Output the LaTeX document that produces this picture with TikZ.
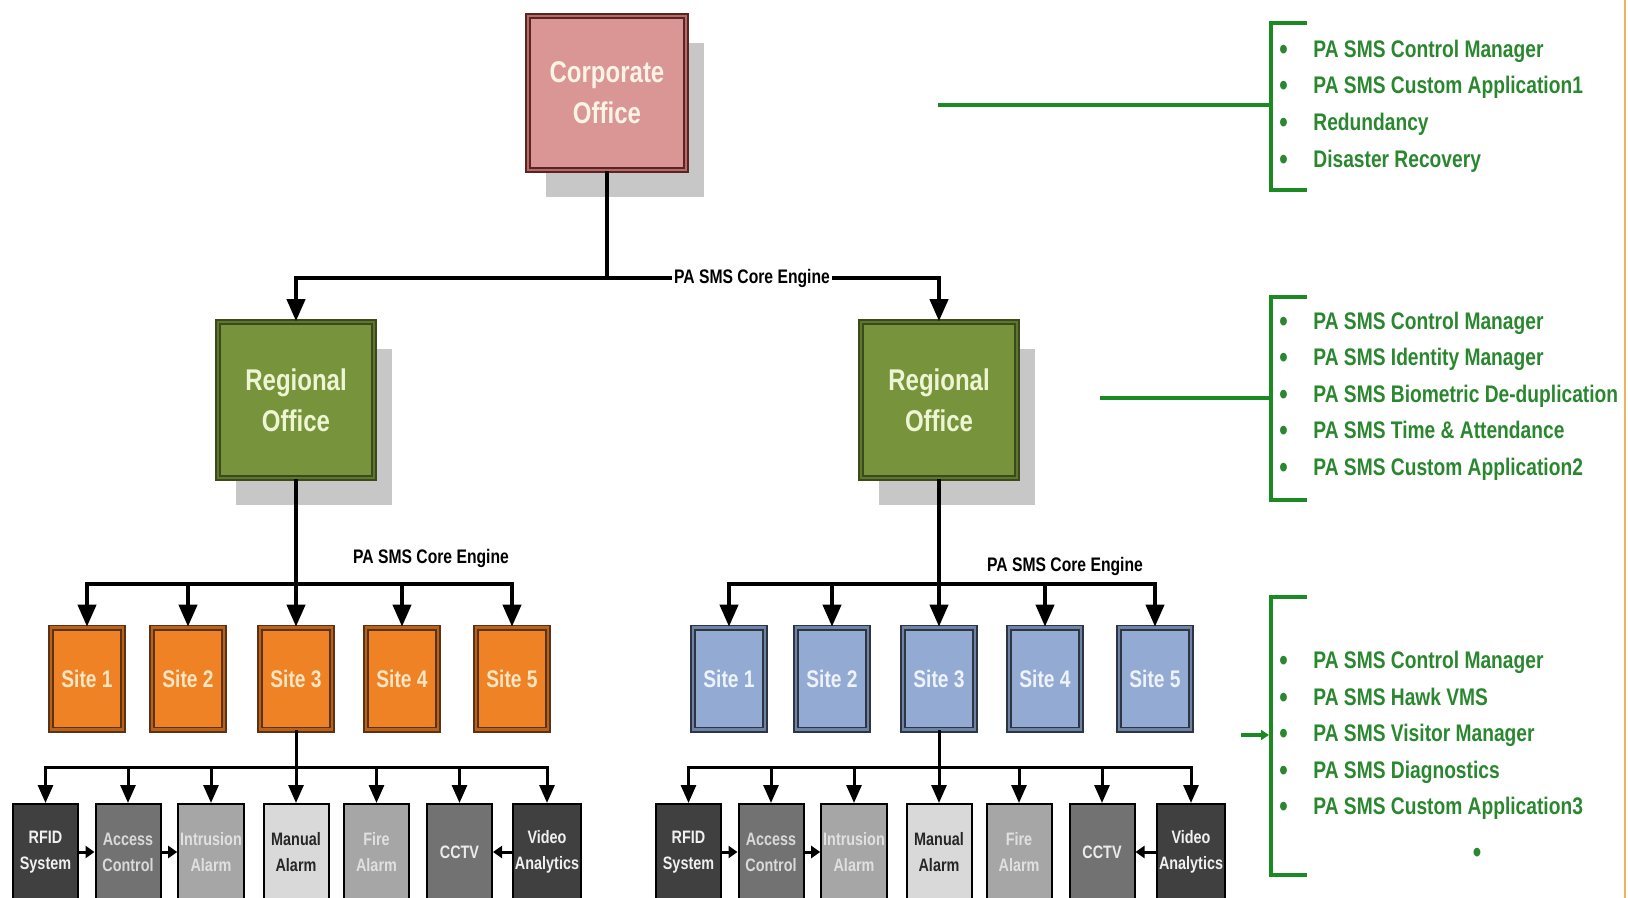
\documentclass[tikz,border=0pt]{standalone}
\usepackage{fontspec}
\setmainfont{Liberation Sans}[FakeStretch=0.8]
\usetikzlibrary{arrows.meta,shadows,calc}

\definecolor{corpfill}{HTML}{D99694}
\definecolor{corpline}{HTML}{5A2424}
\definecolor{corpmid}{HTML}{B86A68}
\definecolor{corptext}{HTML}{FBF3E6}
\definecolor{regfill}{HTML}{77933C}
\definecolor{regline}{HTML}{3A4A1C}
\definecolor{regmid}{HTML}{5E762E}
\definecolor{regtext}{HTML}{EEF5D2}
\definecolor{orfill}{HTML}{EE8224}
\definecolor{orline}{HTML}{5C3214}
\definecolor{ormid}{HTML}{B8621C}
\definecolor{ortext}{HTML}{FDE6C4}
\definecolor{blfill}{HTML}{93ABD3}
\definecolor{blline}{HTML}{2E3440}
\definecolor{blmid}{HTML}{6C84A8}
\definecolor{bltext}{HTML}{EEF2FA}
\definecolor{listgreen}{HTML}{2A872F}
\definecolor{brkgreen}{HTML}{1C8A22}
\definecolor{devdark}{HTML}{404040}
\definecolor{devmid}{HTML}{727272}
\definecolor{devlight}{HTML}{A6A6A6}
\definecolor{devpale}{HTML}{D9D9D9}
\definecolor{edgeorange}{HTML}{F2B25A}

\newcommand{\lbul}{\makebox[17pt][l]{\raisebox{-1pt}{\fontsize{15}{15}\selectfont\textbullet}}}

\tikzset{
  boxline/.style={line width=0.8pt, double distance=1.4pt, align=center},
  boxshadow/.style={drop shadow={shadow xshift=9pt, shadow yshift=-13.5pt, fill=black!22, opacity=1}},
  corpbox/.style={boxline, boxshadow, draw=corpline, double=corpmid, fill=corpfill, text=corptext,
    minimum width=79pt, minimum height=77pt, font=\bfseries\fontsize{15}{20.5}\selectfont},
  regbox/.style={boxline, boxshadow, draw=regline, double=regmid, fill=regfill, text=regtext,
    minimum width=78pt, minimum height=78pt, font=\bfseries\fontsize{15}{20.5}\selectfont},
  sitea/.style={boxline, draw=orline, double=ormid, fill=orfill, text=ortext,
    minimum width=36pt, minimum height=51pt, inner sep=1pt, font=\bfseries\fontsize{12}{14}\selectfont},
  siteb/.style={boxline, draw=blline, double=blmid, fill=blfill, text=bltext,
    minimum width=36pt, minimum height=51pt, inner sep=1pt, font=\bfseries\fontsize{12}{14}\selectfont},
  dev/.style={draw=black, line width=1pt, minimum width=32.5pt, minimum height=48pt, inner sep=1pt,
    align=center, font=\bfseries\fontsize{9}{13}\selectfont},
  core/.style={inner sep=1pt, font=\bfseries\fontsize{9.8}{12}\selectfont},
  link/.style={line width=2pt, -{Triangle[width=9pt,length=11pt]}},
  plain/.style={line width=2pt},
  devlink/.style={line width=1.5pt, -{Triangle[width=7.5pt,length=9pt]}},
  hlink/.style={line width=1.5pt, -{Triangle[width=6pt,length=4.5pt]}},
  brk/.style={draw=brkgreen, line width=2pt},
  listtxt/.style={text=listgreen, inner sep=0pt, align=left, font=\bfseries\fontsize{12}{18.3}\selectfont}
}

\begin{document}
\begin{tikzpicture}[x=50pt, y=-50pt]

     \useasboundingbox (0,0) rectangle (16.28,8.98);

     % offices
     \node[corpbox] (Corp) at (6.07,0.93) {Corporate\\Office};
     \node[regbox] (Reg1) at (2.96,4.00) {Regional\\Office};
     \node[regbox] (Reg2) at (9.39,4.00) {Regional\\Office};

     % sites
     \node[sitea] (SiteA1) at (0.87,6.785) {Site 1};
     \node[sitea] (SiteA2) at (1.88,6.785) {Site 2};
     \node[sitea] (SiteA3) at (2.96,6.785) {Site 3};
     \node[sitea] (SiteA4) at (4.02,6.785) {Site 4};
     \node[sitea] (SiteA5) at (5.12,6.785) {Site 5};

     \node[siteb] (SiteB1) at (7.29,6.785) {Site 1};
     \node[siteb] (SiteB2) at (8.32,6.785) {Site 2};
     \node[siteb] (SiteB3) at (9.39,6.785) {Site 3};
     \node[siteb] (SiteB4) at (10.45,6.785) {Site 4};
     \node[siteb] (SiteB5) at (11.55,6.785) {Site 5};

     % devices
     \node[dev, fill=devdark, text=white!94!black] (RfidA) at (0.455,8.52) {RFID\\System};
     \node[dev, fill=devmid, text=white!85!black] (AccA) at (1.28,8.52) {Access\\Control};
     \node[dev, fill=devlight, text=white!88!black] (IntA) at (2.11,8.52) {Intrusion\\Alarm};
     \node[dev, fill=devpale, text=black!85] (ManA) at (2.96,8.52) {Manual\\Alarm};
     \node[dev, fill=devlight, text=white!88!black] (FireA) at (3.765,8.52) {Fire\\Alarm};
     \node[dev, fill=devmid, text=white!92!black] (CctvA) at (4.595,8.52) {CCTV};
     \node[dev, fill=devdark, text=white!94!black] (VidA) at (5.47,8.52) {Video\\Analytics};

     \node[dev, fill=devdark, text=white!94!black] (RfidB) at (6.885,8.52) {RFID\\System};
     \node[dev, fill=devmid, text=white!85!black] (AccB) at (7.71,8.52) {Access\\Control};
     \node[dev, fill=devlight, text=white!88!black] (IntB) at (8.54,8.52) {Intrusion\\Alarm};
     \node[dev, fill=devpale, text=black!85] (ManB) at (9.39,8.52) {Manual\\Alarm};
     \node[dev, fill=devlight, text=white!88!black] (FireB) at (10.19,8.52) {Fire\\Alarm};
     \node[dev, fill=devmid, text=white!92!black] (CctvB) at (11.02,8.52) {CCTV};
     \node[dev, fill=devdark, text=white!94!black] (VidB) at (11.91,8.52) {Video\\Analytics};

     % junctions
     \coordinate (j0) at (6.07,2.78);
     \coordinate (j1) at (2.96,5.84);
     \coordinate (j2) at (9.39,5.84);
     \coordinate (k1) at (2.96,7.67);
     \coordinate (k2) at (9.39,7.67);

     \draw[plain] (Corp.south) -- (j0);
     \draw[link] (j0) -| (Reg1.north);
     \draw[link] (j0) -| (Reg2.north);
     \node[core, fill=white] (Core0) at (7.52,2.78) {PA SMS Core Engine};

     \draw[link] (Reg1.south) -- (SiteA3.north);
     \draw[link] (j1) -| (SiteA1.north);
     \draw[link] (j1) -| (SiteA2.north);
     \draw[link] (j1) -| (SiteA4.north);
     \draw[link] (j1) -| (SiteA5.north);
     \node[core] (CoreA) at (4.31,5.58) {PA SMS Core Engine};

     \draw[link] (Reg2.south) -- (SiteB3.north);
     \draw[link] (j2) -| (SiteB1.north);
     \draw[link] (j2) -| (SiteB2.north);
     \draw[link] (j2) -| (SiteB4.north);
     \draw[link] (j2) -| (SiteB5.north);
     \node[core] (CoreB) at (10.65,5.66) {PA SMS Core Engine};

     \draw[devlink] (SiteA3.south) -- (ManA.north);
     \draw[devlink] (k1) -| (RfidA.north);
     \draw[devlink] (k1) -| (AccA.north);
     \draw[devlink] (k1) -| (IntA.north);
     \draw[devlink] (k1) -| (FireA.north);
     \draw[devlink] (k1) -| (CctvA.north);
     \draw[devlink] (k1) -| (VidA.north);
     \draw[hlink] (RfidA.east) -- (AccA.west);
     \draw[hlink] (AccA.east) -- (IntA.west);
     \draw[hlink] (VidA.west) -- (CctvA.east);

     \draw[devlink] (SiteB3.south) -- (ManB.north);
     \draw[devlink] (k2) -| (RfidB.north);
     \draw[devlink] (k2) -| (AccB.north);
     \draw[devlink] (k2) -| (IntB.north);
     \draw[devlink] (k2) -| (FireB.north);
     \draw[devlink] (k2) -| (CctvB.north);
     \draw[devlink] (k2) -| (VidB.north);
     \draw[hlink] (RfidB.east) -- (AccB.west);
     \draw[hlink] (AccB.east) -- (IntB.west);
     \draw[hlink] (VidB.west) -- (CctvB.east);

     % module lists
     \draw[brk] (13.07,0.23) -- (12.71,0.23) -- (12.71,1.90) -- (13.07,1.90);
     \draw[brk] (13.07,2.97) -- (12.71,2.97) -- (12.71,5.00) -- (13.07,5.00);
     \draw[brk] (13.07,5.97) -- (12.71,5.97) -- (12.71,8.75) -- (13.07,8.75);

     \coordinate (g1) at (9.38,1.05);
     \coordinate (b1) at (12.71,1.05);
     \coordinate (g2) at (11.00,3.98);
     \coordinate (b2) at (12.71,3.98);
     \coordinate (g3) at (12.41,7.35);
     \coordinate (b3) at (12.69,7.35);
     \draw[brk] (g1) -- (b1);
     \draw[brk] (g2) -- (b2);
     \draw[brk, line width=1.6pt, -{Triangle[width=5pt,length=4pt]}] (g3) -- (b3);

     \node[listtxt, anchor=west] (ListTop) at (12.79,1.06) {\lbul PA SMS Control Manager\\ \lbul PA SMS Custom Application1\\ \lbul Redundancy\\ \lbul Disaster Recovery};
     \node[listtxt, anchor=west] (ListMid) at (12.79,3.96) {\lbul PA SMS Control Manager\\ \lbul PA SMS Identity Manager\\ \lbul PA SMS Biometric De-duplication\\ \lbul PA SMS Time \& Attendance\\ \lbul PA SMS Custom Application2};
     \node[listtxt, anchor=west] (ListBot) at (12.79,7.355) {\lbul PA SMS Control Manager\\ \lbul PA SMS Hawk VMS\\ \lbul PA SMS Visitor Manager\\ \lbul PA SMS Diagnostics\\ \lbul PA SMS Custom Application3};
     \node[listtxt] (Dot3) at (14.77,8.55) {\fontsize{15}{15}\selectfont\textbullet};

     \draw[edgeorange, line width=1pt] (16.25,0) -- (16.25,8.98);

\end{tikzpicture}
\end{document}
